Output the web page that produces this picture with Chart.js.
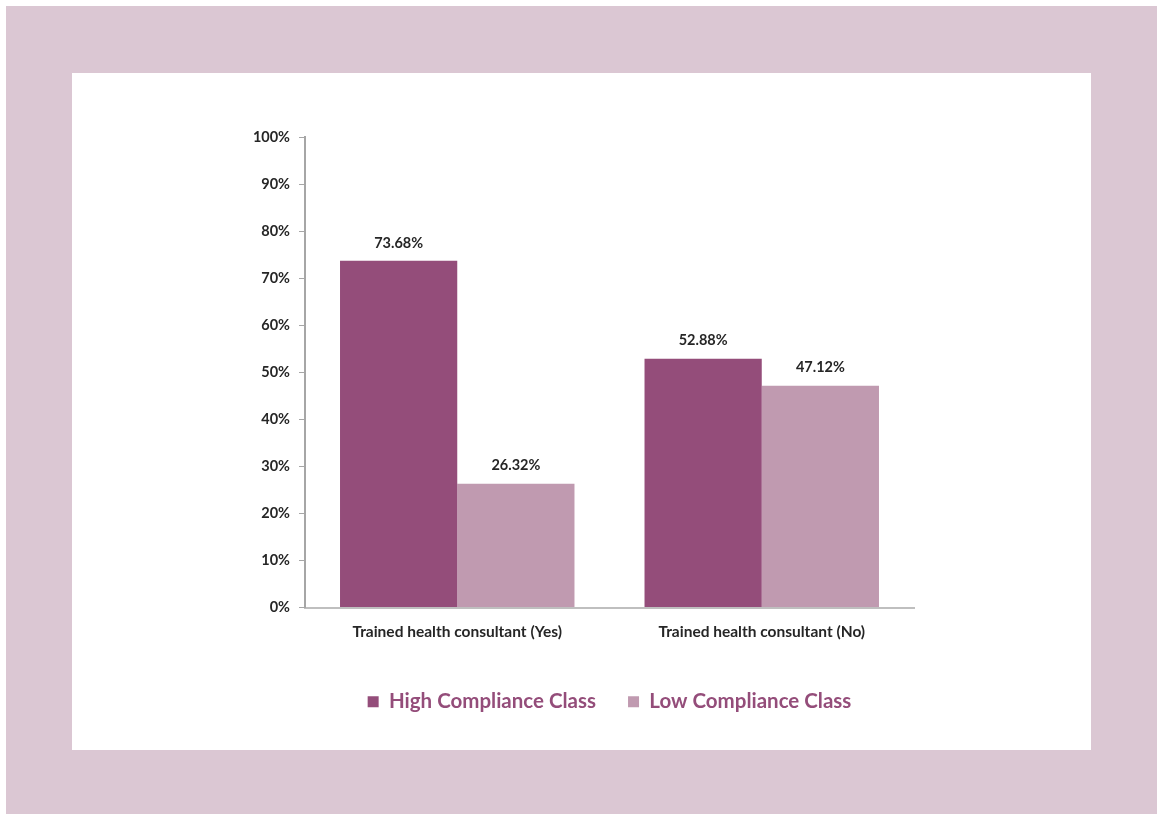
<!DOCTYPE html>
<html>
<head>
	<title>Compliance chart</title>
	<script src="https://cdn.jsdelivr.net/npm/chart.js"></script>
	<style>
		body { margin: 0; background: #ffffff; }
		#frame { position: absolute; left: 6px; top: 6px; width: 1151px; height: 808px; background: #dbc7d3; }
		#card { position: absolute; left: 66px; top: 67px; width: 1019px; height: 677px; background: #ffffff; }
		#card canvas { display: block; }
	</style>
</head>
<body>
	<div id="frame">
		<div id="card">
			<canvas id="myChart" width="1019" height="677"></canvas>
		</div>
	</div>
	<script>
		// categorias e valores
		var categories = ['Trained health consultant (Yes)', 'Trained health consultant (No)'];
		var highData = [73.68, 52.88];
		var lowData = [26.32, 47.12];
		var seriesNames = ['High Compliance Class', 'Low Compliance Class'];

		var fontFamily = 'Lato, "Open Sans", sans-serif';

		// rótulos de valor acima das barras
		var valueLabels = {
			id: 'valueLabels',
			afterDatasetsDraw: function (chart) {
				var ctx = chart.ctx;
				ctx.save();
				ctx.font = 'bold 14.5px ' + fontFamily;
				ctx.fillStyle = '#262626';
				ctx.textAlign = 'center';
				ctx.textBaseline = 'middle';
				chart.data.datasets.forEach(function (ds, i) {
					chart.getDatasetMeta(i).data.forEach(function (bar, j) {
						ctx.fillText(ds.data[j].toFixed(2) + '%', bar.x, bar.y - 18);
					});
				});
				ctx.restore();
			}
		};

		var ctx = document.getElementById('myChart').getContext('2d');
		var chart = new Chart(ctx, {
			type: 'bar',
			data: {
				labels: categories,
				datasets: [{
					label: seriesNames[0],
					data: highData,
					backgroundColor: '#944d7a',
					categoryPercentage: 0.77,
					barPercentage: 1.0
				},
				{
					label: seriesNames[1],
					data: lowData,
					backgroundColor: '#c09ab0',
					categoryPercentage: 0.77,
					barPercentage: 1.0
				}]
			},
			plugins: [valueLabels],
			options: {
				responsive: false,
				animation: false,
				layout: {
					padding: { left: 173, right: 177, top: 64, bottom: 28 }
				},
				plugins: {
					tooltip: { enabled: false },
					legend: {
						position: 'bottom',
						fullSize: false,
						labels: {
							boxWidth: 11,
							boxHeight: 11,
							padding: 32,
							color: '#944d7a',
							font: { family: fontFamily, size: 20.5, weight: 'bold' }
						}
					}
				},
				scales: {
					x: {
						grid: { display: false, drawTicks: false },
						border: { color: '#bfbfbf', width: 2 },
						ticks: {
							padding: 15,
							color: '#262626',
							font: { family: fontFamily, size: 15.5, weight: 'bold' }
						},
						afterFit: function (scale) { scale.height = 52; }
					},
					y: {
						min: 0,
						max: 100,
						grid: {
							drawOnChartArea: false,
							drawTicks: true,
							tickLength: 6,
							tickColor: '#a6a6a6',
							lineWidth: 1
						},
						border: { color: '#a6a6a6', width: 2 },
						ticks: {
							stepSize: 10,
							padding: 9,
							color: '#262626',
							font: { family: fontFamily, size: 14.5, weight: 'bold' },
							callback: function (v) { return v + '%'; }
						},
						afterFit: function (scale) { scale.width = 60; }
					}
				}
			}
		});
	</script>
</body>
</html>
